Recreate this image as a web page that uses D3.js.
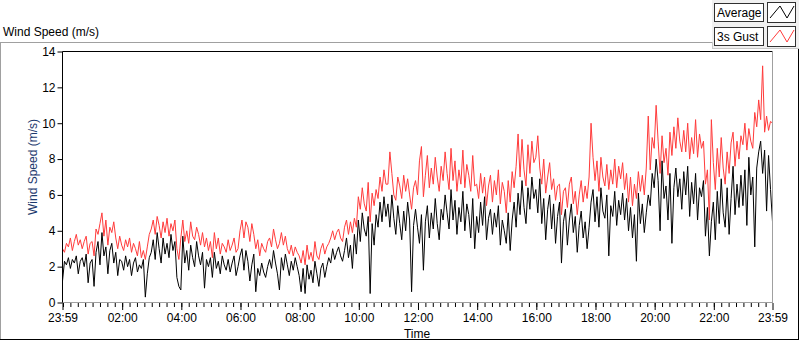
<!DOCTYPE html>
<html>
<head>
<meta charset="utf-8">
<script src="https://cdn.jsdelivr.net/npm/d3@7"></script>
<style>
  body { margin: 0; background: #fff; }
  svg { display: block; font-family: "Liberation Sans", Arial, sans-serif; }
</style>
</head>
<body>
<div id="chart"></div>
<script>
// sampled every 4 minutes, one row = one hour, starting 23:59
var average = [
  1.2, 2.3, 2.1, 2.5, 1.9, 2.4, 2.2, 2.6, 1.6, 2.3, 2.5, 2.0, 2.7, 1.1, 2.2,
  2.4, 0.9, 2.8, 3.4, 2.1, 3.9, 2.6, 3.1, 1.6, 2.9, 3.3, 2.2, 2.8, 1.5, 2.4,
  2.3, 1.8, 2.6, 2.0, 2.4, 1.5, 2.2, 2.5, 1.7, 2.1, 1.9, 2.4, 0.3, 1.6, 2.5,
  2.8, 3.5, 2.4, 3.9, 3.0, 2.2, 3.6, 2.7, 3.3, 2.5, 3.8, 2.9, 3.4, 1.4, 0.9,
  0.7, 3.7, 2.2, 2.9, 1.8, 3.2, 2.5, 2.0, 3.4, 2.6, 2.1, 2.8, 0.8, 2.4, 2.0,
  2.5, 1.4, 2.8, 1.9, 2.3, 1.6, 2.6, 2.1, 1.8, 2.4, 1.7, 2.2, 2.6, 1.5, 2.0,
  2.6, 3.0, 1.8, 2.9, 2.3, 1.2, 2.1, 2.7, 0.6, 1.9, 1.5, 2.2, 1.7, 1.4, 2.0,
  2.4, 1.9, 2.9, 2.2, 1.6, 0.7, 2.5, 1.8, 2.7, 2.1, 1.5, 2.3, 1.8, 2.5, 2.0,
  1.5, 0.6, 1.9, 0.5, 2.1, 1.3, 1.8, 1.1, 2.3, 1.6, 0.9, 1.9, 2.2, 1.4, 2.0,
  2.5, 2.2, 3.0, 2.4, 2.8, 3.1, 2.6, 2.3, 2.9, 3.6, 2.5, 3.2, 1.9, 3.8, 2.7,
  4.6, 3.4, 5.0, 4.1, 3.7, 4.8, 0.5, 4.4, 3.2, 4.9, 4.2, 5.6, 4.5, 5.9, 4.8,
  5.5, 4.2, 6.0, 4.7, 3.8, 5.4, 4.4, 3.5, 5.1, 4.0, 5.6, 4.6, 0.6, 4.3, 5.2,
  4.2, 3.3, 4.9, 1.8, 4.5, 5.4, 3.6, 5.0, 4.1, 5.8, 4.4, 3.5, 5.2, 4.6, 6.0,
  5.0, 4.1, 6.3, 4.6, 5.7, 3.8, 5.3, 4.5, 6.2, 4.0, 5.5, 4.9, 3.6, 5.8, 3.0,
  4.8, 3.9, 5.6, 4.3, 5.9, 3.5, 4.7, 5.2, 3.8, 5.0, 4.2, 5.4, 3.2, 4.6, 4.0,
  3.3, 5.0, 2.9, 4.6, 5.6, 4.2, 6.1, 4.9, 6.8, 5.3, 4.4, 6.4, 5.2, 7.0, 5.8,
  6.3, 5.0, 6.9, 4.4, 5.8, 3.5, 5.2, 6.0, 4.1, 5.5, 3.3, 4.8, 5.6, 2.2, 4.5,
  5.2, 3.2, 4.6, 5.5, 3.9, 4.8, 2.8, 4.3, 5.1, 3.6, 4.5, 3.0, 4.2, 5.6, 6.3,
  4.5, 5.9, 4.2, 6.4, 5.1, 4.7, 6.0, 2.6, 5.4, 4.8, 6.2, 4.3, 5.7, 4.9, 6.1,
  4.6, 5.8, 4.0, 5.3, 3.6, 4.9, 2.3, 6.1, 4.4, 5.5, 3.9, 5.0, 6.0, 5.4, 7.2,
  6.4, 8.0, 6.8, 4.0, 7.9, 5.8, 6.5, 4.6, 7.2, 3.3, 6.4, 7.5, 5.9, 6.9, 5.2,
  7.3, 6.0, 7.6, 4.8, 6.7, 5.5, 7.2, 4.6, 6.4, 5.9, 6.8, 3.7, 5.3, 2.6, 4.5,
  5.6, 3.5, 6.2, 4.4, 6.9, 5.0, 4.2, 6.4, 3.8, 5.8, 7.6, 4.9, 6.6, 5.3, 7.1,
  5.4, 7.4, 4.3, 8.1, 6.0, 7.0, 3.1, 7.5, 8.4, 9.0, 7.2, 8.5, 5.1, 8.2, 6.3,
  4.5
];

var gust = [
  3.0, 2.8, 3.3, 3.1, 3.6, 2.9, 3.4, 3.8, 3.2, 3.5, 3.0, 3.4, 3.7, 2.7, 3.3,
  3.4, 2.6, 4.1, 3.8, 4.4, 5.0, 3.7, 4.6, 3.2, 4.2, 3.9, 4.5, 3.6, 3.0, 3.7,
  3.2, 2.9, 3.5, 3.1, 3.6, 2.8, 3.3, 3.0, 2.6, 3.4, 2.5, 2.9, 2.4, 3.1, 3.8,
  4.1, 4.6, 3.8, 4.8, 4.3, 3.6, 4.5, 3.9, 4.7, 3.7, 4.4, 4.0, 4.6, 3.0, 2.4,
  3.6, 4.6, 3.4, 4.0, 3.3, 4.5, 3.7, 3.5, 4.2, 3.8, 3.2, 3.9, 3.1, 3.6, 2.9,
  3.4, 2.5, 3.9, 3.0, 3.6, 2.7, 3.3, 3.1, 2.8, 3.5, 2.9, 3.2, 3.6, 2.8, 3.0,
  4.0, 4.6, 3.6, 4.5, 4.2, 3.4, 4.4, 3.8, 3.0, 3.5, 2.6, 3.3, 3.0, 2.8, 3.4,
  3.6, 3.1, 4.1, 3.5, 3.0, 3.3, 3.9, 3.2, 3.7, 3.0, 2.7, 3.2, 2.6, 3.1, 2.8,
  2.6, 2.2, 2.9, 2.1, 3.2, 2.4, 2.8, 2.3, 3.4, 2.6, 2.4, 3.0, 3.3, 2.7, 3.1,
  3.3, 3.6, 4.0, 3.5, 3.9, 4.1, 3.6, 3.4, 4.2, 4.6, 3.8, 4.5, 3.9, 4.7, 4.2,
  5.9, 5.2, 6.4, 5.5, 5.1, 6.7, 4.5, 6.1, 5.4, 6.3, 5.8, 7.0, 6.2, 7.4, 6.6,
  6.6, 8.4, 7.2, 6.0, 5.7, 7.0, 6.5, 5.8, 7.1, 6.2, 6.9, 6.0, 5.2, 6.4, 6.8,
  6.0, 7.9, 8.7, 5.9, 7.1, 8.2, 6.4, 7.5, 6.6, 8.1, 7.0, 6.2, 7.6, 6.8, 8.4,
  7.2, 6.3, 8.6, 6.8, 7.9, 6.2, 7.4, 6.6, 8.5, 6.4, 7.7, 7.1, 6.2, 8.2, 6.5,
  6.6, 5.8, 7.2, 6.1, 7.0, 5.4, 6.5, 7.1, 5.6, 6.8, 6.0, 7.4, 5.5, 6.7, 6.2,
  5.0, 6.8, 5.6, 7.3, 6.4, 7.6, 9.4, 7.0, 9.1, 7.4, 6.5, 8.8, 7.2, 9.0, 7.8,
  8.1, 9.3, 7.5, 6.6, 8.0, 6.1, 7.0, 7.8, 6.3, 6.9, 5.7, 6.5, 6.6, 4.9, 6.2,
  6.4, 5.3, 6.6, 7.0, 5.5, 6.2, 4.9, 6.0, 6.8, 5.6, 6.5, 5.8, 7.0, 10.0, 8.1,
  6.8, 7.9, 6.2, 8.1, 7.0, 6.5, 7.7, 6.3, 7.4, 6.6, 8.0, 6.4, 7.6, 6.9, 7.8,
  6.3, 7.2, 5.6, 7.0, 5.4, 6.6, 5.8, 7.3, 6.2, 7.1, 6.0, 7.5, 10.4, 7.4, 9.2,
  8.6, 11.0, 9.0, 7.2, 9.3, 7.8, 8.6, 7.1, 9.5, 8.2, 9.8, 8.6, 10.3, 9.0, 8.4,
  9.6, 8.4, 10.0, 8.0, 9.2, 8.3, 10.2, 8.1, 9.4, 8.6, 9.0, 6.6, 7.4, 4.6, 10.2,
  7.8, 6.3, 8.6, 7.0, 9.2, 7.5, 6.6, 8.4, 7.2, 8.9, 9.5, 7.6, 9.0, 8.0, 9.3,
  8.8, 10.0, 8.5, 9.7, 9.0, 8.6, 10.6, 9.8, 11.3, 10.2, 13.2, 9.5, 10.4, 9.6, 10.1,
  10.0
];

var yTicks = [0, 2, 4, 6, 8, 10, 12, 14];
var xTickHours = [2, 4, 6, 8, 10, 12, 14, 16, 18, 20, 22];
var seriesNames = ["Average", "3s Gust"];
var seriesColors = ["#000000", "#ff3b3b"];

var width = 800,
    height = 342;

var start = new Date(2020, 0, 1, 23, 59),
    end = new Date(2020, 0, 2, 23, 59),
    step = 4 * 60 * 1000;

var svg = d3.select("#chart")
  .append("svg")
    .attr("width", width)
    .attr("height", height);

// outer panel
svg.append("rect")
  .attr("x", 0).attr("y", 42).attr("width", 799).attr("height", 298)
  .attr("fill", "#fff");
svg.append("line").attr("x1", 0).attr("x2", 712).attr("y1", 42.5).attr("y2", 42.5).attr("stroke", "#a0a0a0");
svg.append("line").attr("x1", 0.5).attr("x2", 0.5).attr("y1", 42).attr("y2", 340).attr("stroke", "#a0a0a0");
svg.append("line").attr("x1", 0).attr("x2", 799).attr("y1", 339.5).attr("y2", 339.5).attr("stroke", "#000");
svg.append("line").attr("x1", 798.5).attr("x2", 798.5).attr("y1", 49).attr("y2", 340).attr("stroke", "#000");

svg.append("text")
  .attr("x", 3).attr("y", 36)
  .style("font-size", "12px")
  .text("Wind Speed (m/s)");

var x = d3.scaleTime()
  .domain([start, end])
  .range([62.5, 772.5]);

var y = d3.scaleLinear()
  .domain([0, 14])
  .range([302.5, 51.5]);

var times = average.map(function(d, i) { return new Date(+start + i * step); });

// plot area
svg.append("rect")
  .attr("x", 62.5).attr("y", 51.5).attr("width", 710).attr("height", 251)
  .attr("fill", "#fff");

svg.append("clipPath").attr("id", "clip")
  .append("rect").attr("x", 63).attr("y", 52).attr("width", 709).attr("height", 250);

var line = d3.line()
  .x(function(d) { return x(d.t); })
  .y(function(d) { return y(d.v); });

var plot = svg.append("g").attr("clip-path", "url(#clip)");

plot.append("path")
  .datum(gust.map(function(v, i) { return {t: times[i], v: v}; }))
  .attr("fill", "none")
  .attr("stroke", seriesColors[1])
  .attr("stroke-width", 1)
  .attr("d", line);

plot.append("path")
  .datum(average.map(function(v, i) { return {t: times[i], v: v}; }))
  .attr("fill", "none")
  .attr("stroke", seriesColors[0])
  .attr("stroke-width", 1)
  .attr("d", line);

// frame: dark top/left, grey bottom/right
svg.append("line").attr("x1", 62.5).attr("x2", 772.5).attr("y1", 51.5).attr("y2", 51.5).attr("stroke", "#000");
svg.append("line").attr("x1", 62.5).attr("x2", 62.5).attr("y1", 51.5).attr("y2", 303).attr("stroke", "#000");
svg.append("line").attr("x1", 772.5).attr("x2", 772.5).attr("y1", 51.5).attr("y2", 303).attr("stroke", "#a0a0a0");
svg.append("line").attr("x1", 62.5).attr("x2", 772.5).attr("y1", 302.5).attr("y2", 302.5).attr("stroke", "#a0a0a0");

// y axis
var yAxis = svg.append("g")
  .attr("transform", "translate(62.5,0)")
  .call(d3.axisLeft(y).tickValues(yTicks).tickSize(5).tickSizeOuter(0));
yAxis.select(".domain").remove();
yAxis.selectAll("text")
  .attr("x", -7)
  .style("font-size", "12px")
  .style("font-family", "Liberation Sans, Arial, sans-serif")
  .attr("fill", "#000");
yAxis.selectAll("line").attr("stroke", "#000");

svg.append("text")
  .attr("transform", "translate(37,167) rotate(-90)")
  .attr("text-anchor", "middle")
  .attr("fill", "#1c3a6e")
  .style("font-size", "12px")
  .text("Wind Speed (m/s)");

// x axis: minor ticks every 15 min, major every 2 h
var minor = d3.timeMinute.every(15).range(new Date(2020, 0, 2, 0, 0), end);
svg.append("g")
  .attr("transform", "translate(0,303)")
  .call(d3.axisBottom(x).tickValues(minor).tickSize(4).tickFormat(""))
  .call(function(g) { g.select(".domain").remove(); })
  .selectAll("line").attr("stroke", "#000");

var majors = [start].concat(xTickHours.map(function(h) { return new Date(2020, 0, 2, h, 0); })).concat([end]);
var xAxis = svg.append("g")
  .attr("transform", "translate(0,303)")
  .call(d3.axisBottom(x).tickValues(majors).tickSize(7).tickPadding(3).tickFormat(d3.timeFormat("%H:%M")));
xAxis.select(".domain").remove();
xAxis.selectAll("line").attr("stroke", "#000");
xAxis.selectAll("text")
  .style("font-size", "12px")
  .style("font-family", "Liberation Sans, Arial, sans-serif")
  .attr("fill", "#000");

svg.append("text")
  .attr("x", 417).attr("y", 338)
  .attr("text-anchor", "middle")
  .style("font-size", "12px")
  .text("Time");

// legend
var legend = svg.append("g");
legend.append("rect")
  .attr("x", 712).attr("y", 0).attr("width", 87).attr("height", 49)
  .attr("fill", "#f0f0f0");
legend.append("line").attr("x1", 712).attr("x2", 799).attr("y1", 48.5).attr("y2", 48.5).attr("stroke", "#c8c8c8");
legend.append("line").attr("x1", 712.5).attr("x2", 712.5).attr("y1", 42).attr("y2", 49).attr("stroke", "#c8c8c8");

var item = legend.selectAll(".item")
  .data(seriesNames)
  .enter()
  .append("g")
    .attr("class", "item")
    .attr("transform", function(d, i) { return "translate(0," + (i * 24) + ")"; });

item.append("rect")
  .attr("x", 714.5).attr("y", 3.5).attr("width", 49).attr("height", 18)
  .attr("fill", "#fff").attr("stroke", "#303030");
item.append("text")
  .attr("x", 717).attr("y", 17)
  .style("font-size", "12px")
  .text(function(d) { return d; });
item.append("rect")
  .attr("x", 767.5).attr("y", 2.5).attr("width", 28).attr("height", 20)
  .attr("fill", "#fff").attr("stroke", "#303030");
item.append("polyline")
  .attr("points", "770,18 780,6 787,18 794,6")
  .attr("fill", "none")
  .attr("stroke", function(d, i) { return seriesColors[i]; });
</script>
</body>
</html>
